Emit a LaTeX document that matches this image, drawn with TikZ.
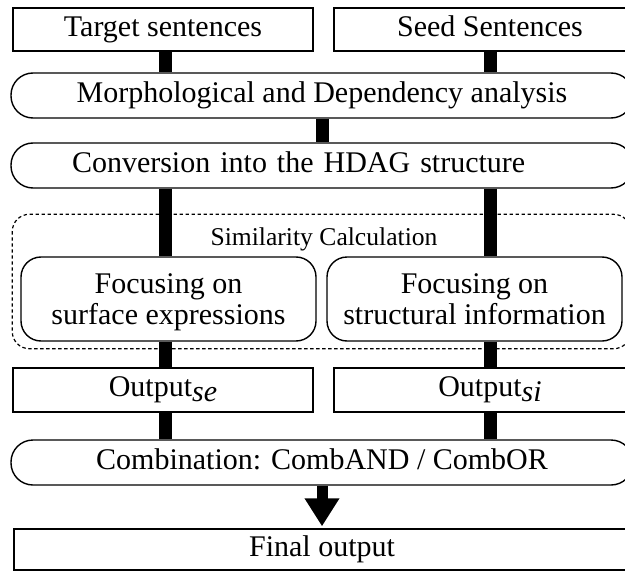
\documentclass[tikz,border=0pt]{standalone}
\usepackage{fontspec}
\setmainfont{Liberation Serif}
\usetikzlibrary{calc,arrows.meta}
\newcommand{\mainsize}{\fontsize{15}{15.5}\selectfont}
\newcommand{\simsize}{\fontsize{12.8}{14}\selectfont}
\newcommand{\sub}[1]{\raisebox{-0.35ex}{\itshape #1}}

\begin{document}
\begin{tikzpicture}[x=0.5pt,y=-0.5pt,
	plainbox/.style={draw,line width=0.7pt,inner sep=0pt,minimum height=21.5pt,font=\mainsize,text height=0.66em,text depth=0pt},
	pillbox/.style={plainbox,rounded corners=11pt,minimum width=311pt,minimum height=22.5pt},
	focusbox/.style={draw,line width=0.7pt,inner sep=0pt,font=\mainsize,rounded corners=10pt,minimum width=147.5pt,minimum height=42pt,align=center,text depth=0pt},
	barline/.style={line width=6.5pt},
	simframe/.style={line width=0.6pt,dash pattern=on 1.7pt off 1.3pt,rounded corners=8.5pt}]
		\useasboundingbox (0,0) rectangle (625,572);
		% entrees
		\node[plainbox,minimum width=150pt] (target) at (163,29.5) {Target sentences};
		\node[plainbox,minimum width=156pt] (seed) at (490,29.5) {Seed Sentences};
		% analyse
		\node[pillbox] (morph) at (322,95.5) {Morphological and Dependency analysis};
		\node[pillbox,text width=250pt,inner xsep=30.5pt,align=left] (conv) at (322,165.5) {Conversion into the HDAG structure};
		% similarite
		\node[font=\simsize,inner sep=0pt,text height=0.66em,text depth=0pt] (simlabel) at (324,239) {Similarity Calculation};
		\node[focusbox] (focusL) at (168.5,299) {Focusing on\\surface expressions};
		\node[focusbox] (focusR) at (474.5,299) {Focusing on\\structural information};
		\draw[simframe] ($(focusL.north west)+(-8,-42)$) rectangle ($(focusR.south east)+(8,7)$);
		% sorties
		\node[plainbox,minimum width=150pt,minimum height=22pt] (outL) at (163,390) {Output\sub{se}};
		\node[plainbox,minimum width=156pt,minimum height=22pt] (outR) at (490,390) {Output\sub{si}};
		\node[pillbox] (comb) at (322,462.5) {Combination: CombAND / CombOR};
		\node[plainbox,minimum width=308pt,minimum height=20.5pt] (final) at (322,549.5) {Final output};
		% traits
		\coordinate (laneL) at (165,0);
		\coordinate (laneR) at (490,0);
		\draw[barline] (laneL |- target.south) -- (laneL |- morph.north);
		\draw[barline] (laneR |- seed.south) -- (laneR |- morph.north);
		\draw[barline] (morph.south) -- (conv.north);
		\draw[barline] (laneL |- conv.south) -- (laneL |- focusL.north);
		\draw[barline] (laneR |- conv.south) -- (laneR |- focusR.north);
		\draw[barline] (laneL |- focusL.south) -- (laneL |- outL.north);
		\draw[barline] (laneR |- focusR.south) -- (laneR |- outR.north);
		\draw[barline] (laneL |- outL.south) -- (laneL |- comb.north);
		\draw[barline] (laneR |- outR.south) -- (laneR |- comb.north);
		% fleche
		\draw[line width=5.5pt,-{Triangle[length=14pt,width=16.5pt]},shorten >=1pt] (comb.south) -- (final.north);
	\end{tikzpicture}
\end{document}
